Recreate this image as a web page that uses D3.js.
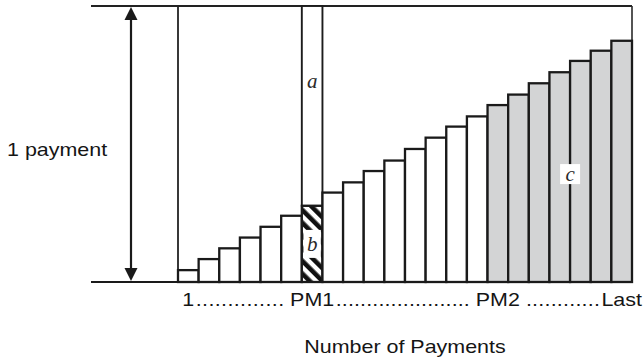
<!DOCTYPE html>
<html>
<head>
<meta charset="utf-8">
<script src="https://cdn.jsdelivr.net/npm/d3@7/dist/d3.min.js"></script>
<style>
  body { margin: 0; background: #fff; }
  svg { display: block; }
  .sans { font-family: "Liberation Sans", Arial, sans-serif; font-size: 18.5px; fill: #151515; }
  .letter { font-family: "Liberation Serif", "Times New Roman", serif; font-style: italic; font-size: 21px; fill: #2a2a2a; }
</style>
</head>
<body>
<div id="graph"></div>
<script>
// payment number (one bar each) and principal part of each payment, as a share of 1 payment
var paymentNo = [1, 2, 3, 4, 5, 6, 7, 8, 9, 10, 11, 12, 13, 14, 15, 16, 17, 18, 19, 20, 21, 22];
var principalShare = [0.043, 0.083, 0.122, 0.161, 0.200, 0.240, 0.276, 0.324, 0.361, 0.402, 0.440,
                      0.482, 0.523, 0.563, 0.600, 0.641, 0.679, 0.720, 0.760, 0.801, 0.838, 0.874];
var pm1 = 7, pm2 = 16;
var tickAt = [1, 7, 16, 22];
var tickLabels = ["1", "PM1", "PM2", "Last"];
var leaderDots = [14, 22, 12];

var width = 644, height = 360;
var stretch = 1.16;

var x = d3.scaleBand().domain(paymentNo).range([178, 632]).paddingInner(0).paddingOuter(0);
var y = d3.scaleLinear().domain([0, 1]).range([282, 6]);

var data = paymentNo.map(function(p, i) { return {n: p, v: principalShare[i]}; });
var last = data[data.length - 1];
var frameLeft = x.range()[0] - 87;
var frameRight = x.range()[1];

var svg = d3.select("#graph").append("svg")
    .attr("width", width)
    .attr("height", height);

var defs = svg.append("defs");
var hatch = defs.append("pattern")
    .attr("id", "hatch")
    .attr("patternUnits", "userSpaceOnUse")
    .attr("width", 9)
    .attr("height", 9)
    .attr("patternTransform", "rotate(-45)");
hatch.append("rect").attr("width", 9).attr("height", 9).attr("fill", "#fff");
hatch.append("rect").attr("width", 4.6).attr("height", 9).attr("fill", "#111");

// frame: top line and outline verticals
svg.append("line")
    .attr("x1", frameLeft).attr("x2", frameRight)
    .attr("y1", y(1)).attr("y2", y(1))
    .attr("stroke", "#222").attr("stroke-width", 2);

svg.append("line")
    .attr("x1", x(1)).attr("x2", x(1))
    .attr("y1", y(1)).attr("y2", y(data[0].v))
    .attr("stroke", "#222").attr("stroke-width", 1.8);

svg.append("line")
    .attr("x1", frameRight).attr("x2", frameRight)
    .attr("y1", y(1)).attr("y2", y(last.v))
    .attr("stroke", "#2a2a2a").attr("stroke-width", 1.6);

// column a above PM1
svg.append("rect")
    .attr("x", x(pm1)).attr("width", x.bandwidth())
    .attr("y", y(1)).attr("height", y(principalShare[pm1 - 1]) - y(1))
    .attr("fill", "#fff")
    .attr("stroke", "#1c1c1c").attr("stroke-width", 1.9);

// bars
svg.selectAll(".bar")
    .data(data)
  .enter().append("rect")
    .attr("class", "bar")
    .attr("x", function(d) { return x(d.n); })
    .attr("width", x.bandwidth())
    .attr("y", function(d) { return y(d.v); })
    .attr("height", function(d) { return y(0) - y(d.v); })
    .attr("fill", function(d) {
      if (d.n === pm1) return "url(#hatch)";
      return d.n >= pm2 ? "#d3d4d5" : "#fff";
    })
    .attr("stroke", "#1a1a1a")
    .attr("stroke-width", 2.3);

// baseline
svg.append("line")
    .attr("x1", frameLeft).attr("x2", frameRight)
    .attr("y1", y(0)).attr("y2", y(0))
    .attr("stroke", "#1a1a1a").attr("stroke-width", 2.2);

// double arrow for "1 payment"
var ax = 131, ah = 13, aw = 6.5;
svg.append("line")
    .attr("x1", ax).attr("x2", ax)
    .attr("y1", y(1) + ah).attr("y2", y(0) - ah)
    .attr("stroke", "#1a1a1a").attr("stroke-width", 2.2);
svg.append("path")
    .attr("d", "M" + ax + "," + (y(1) + 1) + "L" + (ax - aw) + "," + (y(1) + ah + 1) + "L" + (ax + aw) + "," + (y(1) + ah + 1) + "Z")
    .attr("fill", "#1a1a1a");
svg.append("path")
    .attr("d", "M" + ax + "," + (y(0) - 1) + "L" + (ax - aw) + "," + (y(0) - ah - 1) + "L" + (ax + aw) + "," + (y(0) - ah - 1) + "Z")
    .attr("fill", "#1a1a1a");

svg.append("text")
    .attr("class", "sans")
    .attr("transform", "translate(7,156) scale(" + stretch + ",1)")
    .text("1 payment");

// letters a, b, c
var cx7 = x(pm1) + x.bandwidth() / 2;
svg.append("text")
    .attr("class", "letter")
    .attr("x", cx7).attr("y", y(0.73))
    .attr("text-anchor", "middle").attr("dominant-baseline", "central")
    .text("a");

var bMid = y(principalShare[pm1 - 1] / 2);
svg.append("rect")
    .attr("x", x(pm1) + 1.6).attr("width", x.bandwidth() - 3.2)
    .attr("y", bMid - 14).attr("height", 28)
    .attr("fill", "#fff");
svg.append("text")
    .attr("class", "letter")
    .attr("x", cx7).attr("y", bMid)
    .attr("text-anchor", "middle").attr("dominant-baseline", "central")
    .text("b");

var cX = x(20), cY = y(0.391);
svg.append("rect")
    .attr("x", cX - 10).attr("y", cY - 10)
    .attr("width", 20).attr("height", 20)
    .attr("fill", "#fff");
svg.append("text")
    .attr("class", "letter")
    .attr("x", cX).attr("y", cY)
    .attr("text-anchor", "middle").attr("dominant-baseline", "central")
    .text("c");

// payment labels with dot leaders
var tickY = 306;
var spans = [];
tickAt.forEach(function(n, i) {
  var cx = x(n) + x.bandwidth() / 2;
  var t = svg.append("text")
      .attr("class", "sans")
      .attr("text-anchor", "middle")
      .attr("transform", "translate(" + cx + "," + tickY + ") scale(" + stretch + ",1)")
      .text(tickLabels[i]);
  var w = t.node().getComputedTextLength() * stretch;
  spans.push([cx - w / 2, cx + w / 2]);
});

leaderDots.forEach(function(k, i) {
  var gapL = spans[i][1] + (i === 2 ? 6 : 1.5);
  var gapR = spans[i + 1][0] - (i === 2 ? 1.5 : 6);
  svg.append("text")
      .attr("class", "sans")
      .attr("transform", "translate(" + gapL + "," + tickY + ") scale(" + stretch + ",1)")
      .attr("textLength", (gapR - gapL) / stretch)
      .attr("lengthAdjust", "spacing")
      .text(d3.range(k).map(function() { return "."; }).join(""));
});

svg.append("text")
    .attr("class", "sans")
    .attr("text-anchor", "middle")
    .attr("transform", "translate(" + (x.range()[0] + x.range()[1]) / 2 + ",353) scale(" + stretch + ",1)")
    .text("Number of Payments");
</script>
</body>
</html>
